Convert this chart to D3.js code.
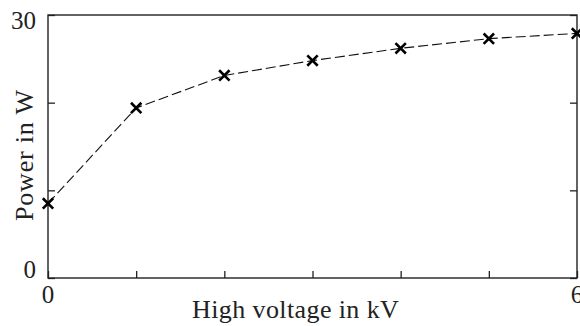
<!DOCTYPE html>
<html>
<head>
<meta charset="utf-8">
<script src="https://cdn.jsdelivr.net/npm/d3@7"></script>
<style>
  body { margin: 0; background: #fff; }
  svg text { font-family: "Liberation Serif", "Times New Roman", serif; fill: #222; }
</style>
</head>
<body>
<div id="chart"></div>
<script>
// values
const voltage = [0, 1, 2, 3, 4, 5, 6];
const power = [8.5, 19.4, 23.1, 24.8, 26.2, 27.3, 27.9];
const xTicks = [0, 1, 2, 3, 4, 5, 6];
const yTicks = [0, 10, 20, 30];
const xTickLabels = [0, 6];
const yTickLabels = [0, 30];

document.addEventListener("DOMContentLoaded", function() {
    const width = 580, height = 326;
    const margin = {left: 48, right: 3, top: 15, bottom: 48};

    const svg = d3.select("#chart").append("svg")
        .attr("width", width)
        .attr("height", height);

    const x = d3.scaleLinear().domain([0, 6]).range([margin.left, width - margin.right]);
    const y = d3.scaleLinear().domain([0, 30]).range([height - margin.bottom, margin.top]);

    // inward ticks, no labels from the axis itself
    const axisStyle = g => {
        g.select(".domain").remove();
        g.selectAll(".tick line").attr("stroke", "#222").attr("stroke-width", 1.3);
        g.selectAll(".tick text").remove();
    };

    svg.append("g")
        .attr("transform", `translate(0,${y(0)})`)
        .call(d3.axisBottom(x).tickValues(xTicks).tickSizeInner(-7).tickSizeOuter(0))
        .call(axisStyle);

    svg.append("g")
        .attr("transform", `translate(${x(0)},0)`)
        .call(d3.axisLeft(y).tickValues(yTicks).tickSizeInner(-7).tickSizeOuter(0))
        .call(axisStyle);

    svg.append("g")
        .attr("transform", `translate(${x(6)},0)`)
        .call(d3.axisRight(y).tickValues(yTicks).tickSizeInner(-7).tickSizeOuter(0))
        .call(axisStyle);

    // frame
    svg.append("rect")
        .attr("x", x(0)).attr("y", y(30))
        .attr("width", x(6) - x(0)).attr("height", y(0) - y(30))
        .attr("fill", "none")
        .attr("stroke", "#222")
        .attr("stroke-width", 1.4);

    // tick labels
    svg.selectAll(".xlab")
        .data(xTickLabels)
        .enter().append("text")
        .attr("x", d => x(d))
        .attr("y", y(0) + 25)
        .attr("text-anchor", "middle")
        .attr("font-size", 25)
        .text(d => d);

    svg.selectAll(".ylab")
        .data(yTickLabels)
        .enter().append("text")
        .attr("x", 36)
        .attr("y", d => Math.min(y(d) + 14, y(0)))
        .attr("text-anchor", "end")
        .attr("font-size", 25)
        .text(d => d);

    // axis titles
    svg.append("text")
        .attr("x", 192)
        .attr("y", 318)
        .attr("font-size", 26)
        .attr("letter-spacing", 0.4)
        .text("High voltage in kV");

    svg.append("text")
        .attr("transform", "translate(33,221) rotate(-90)")
        .attr("font-size", 26)
        .attr("letter-spacing", 0.8)
        .text("Power in W");

    // dashed line
    const pts = voltage.map((v, i) => [v, power[i]]);
    svg.append("path")
        .datum(pts)
        .attr("fill", "none")
        .attr("stroke", "#111")
        .attr("stroke-width", 1.1)
        .attr("stroke-dasharray", "10,4")
        .attr("d", d3.line().x(d => x(d[0])).y(d => y(d[1])));

    // x markers
    const s = 5.2;
    svg.selectAll(".mark")
        .data(pts)
        .enter().append("path")
        .attr("transform", d => `translate(${x(d[0])},${y(d[1])})`)
        .attr("d", `M${-s},${-s}L${s},${s}M${-s},${s}L${s},${-s}`)
        .attr("stroke", "#000")
        .attr("stroke-width", 2.6)
        .attr("fill", "none");
});
</script>
</body>
</html>
